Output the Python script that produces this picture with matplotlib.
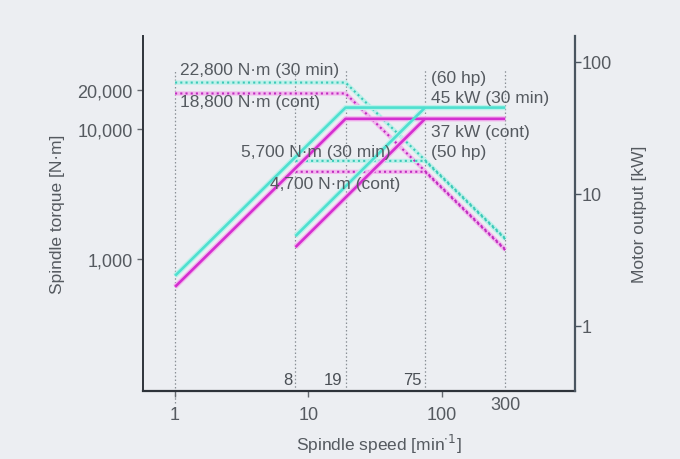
import matplotlib
matplotlib.use("Agg")
import matplotlib.pyplot as plt
from matplotlib.ticker import FixedLocator, NullLocator, FixedFormatter

plt.rcParams['font.family'] = ['Liberation Sans', 'DejaVu Sans']

# ---- data ----
low_speed = [1, 19, 300]          # min^-1
high_speed_pow = [8, 75]
high_speed_trq = [8, 75, 300]

torque_30_low = [22800, 22800, 1444]
torque_cont_low = [18800, 18800, 1190]
torque_30_high = [5700, 5700, 1425]
torque_cont_high = [4700, 4700, 1175]

power_30_low = [2.39, 45, 45]     # kW
power_cont_low = [1.97, 37, 37]
power_30_high = [4.78, 45]
power_cont_high = [3.94, 37]

marker_speeds = [1, 8, 19, 75, 300]
inside_labels = ["8", "19", "75"]
xticks = [1, 10, 100]
xtick_labels = ["1", "10", "100"]
ytorque_ticks = [1000, 10000, 20000]
ytorque_labels = ["1,000", "10,000", "20,000"]
ypower_ticks = [1, 10, 100]
ypower_labels = ["1", "10", "100"]

BG = "#eceef2"
CYAN = "#4fe0d0"
CYAN_L = "#bdf1ea"
MAG = "#d42fd0"
MAG_L = "#f2b8ee"
TXT = "#555a60"

fig = plt.figure(figsize=(6.8, 4.6), dpi=100, facecolor=BG)
ax = fig.add_axes([0.2103, 0.1478, 0.8456 - 0.2103, 0.9196 - 0.1478])
ax.set_facecolor(BG)
ax2 = ax.twinx()

ax.set_xscale("log")
ax.set_yscale("log")
ax2.set_yscale("log")
ax.set_xlim(0.575, 1000)
ax.set_ylim(97, 52000)
ax2.set_ylim(0.32, 157)

# vertical guide lines
for s in marker_speeds:
    ax.axvline(s, ymin=(-0.035 if s == 1 else 0), ymax=0.905, color="#8a8f96",
               lw=0.9, ls=(0, (1.2, 1.8)), clip_on=False, zorder=1)

# torque curves (dotted, with light band)
def dotted(a, x, y, c, cl):
    a.plot(x, y, color=cl, lw=3.0, solid_capstyle="butt", zorder=2)
    a.plot(x, y, color=c, lw=1.5, ls=(0, (1.0, 1.5)), zorder=3)

dotted(ax, low_speed, torque_30_low, "#3cc9b8", CYAN_L)
dotted(ax, low_speed, torque_cont_low, "#c02cc0", MAG_L)
dotted(ax, high_speed_trq, torque_30_high, "#3cc9b8", CYAN_L)
dotted(ax, high_speed_trq, torque_cont_high, "#c02cc0", MAG_L)

# power curves (solid)
def solid(a, x, y, c, cl):
    a.plot(x, y, color=cl, lw=3.8, zorder=4, solid_capstyle="butt")
    a.plot(x, y, color=c, lw=1.9, zorder=5, solid_capstyle="butt")

solid(ax2, low_speed, power_30_low, CYAN, CYAN_L)
solid(ax2, low_speed, power_cont_low, MAG, MAG_L)
solid(ax2, high_speed_pow, power_30_high, CYAN, CYAN_L)
solid(ax2, high_speed_pow, power_cont_high, MAG, MAG_L)

# spines
for a in (ax, ax2):
    a.spines["top"].set_visible(False)
ax.spines["left"].set_color("#2e333a")
ax.spines["left"].set_linewidth(1.4)
ax.spines["bottom"].set_color("#2e333a")
ax.spines["bottom"].set_linewidth(1.6)
ax.spines["right"].set_visible(False)
ax2.spines["left"].set_visible(False)
ax2.spines["bottom"].set_visible(False)
ax2.spines["right"].set_color("#4a5560")
ax2.spines["right"].set_linewidth(1.6)

# ticks
ax.xaxis.set_major_locator(FixedLocator(xticks))
ax.xaxis.set_major_formatter(FixedFormatter(xtick_labels))
ax.xaxis.set_minor_locator(NullLocator())
ax.yaxis.set_major_locator(FixedLocator(ytorque_ticks))
ax.yaxis.set_major_formatter(FixedFormatter(ytorque_labels))
ax.yaxis.set_minor_locator(NullLocator())
ax2.yaxis.set_major_locator(FixedLocator(ypower_ticks))
ax2.yaxis.set_major_formatter(FixedFormatter(ypower_labels))
ax2.yaxis.set_minor_locator(NullLocator())
ax.tick_params(axis="both", labelsize=13, labelcolor=TXT, color="#666a70",
               length=4, width=1, direction="out")
ax.tick_params(axis="x", pad=7)
ax2.tick_params(axis="y", labelsize=13, labelcolor=TXT, color="#4a5560",
                length=4, width=1, direction="out", pad=1)

# 300 label below axis (sits slightly higher than the tick labels)
ax.text(300, -0.015, "300", transform=ax.get_xaxis_transform(), ha="center",
        va="top", fontsize=13, color=TXT)

# inside labels near bottom
for s, lab in zip(marker_speeds[1:4], inside_labels):
    ax.text(s / 1.06, 0.01, lab, transform=ax.get_xaxis_transform(), ha="right",
            va="bottom", fontsize=12, color="#4a4f55")

ax.set_xlabel("Spindle speed [min$^{\\cdot 1}$]", fontsize=12.5, color=TXT, labelpad=6)
ax.xaxis.set_label_coords(0.545, -0.115)
ax.set_ylabel("Spindle torque [N·m]", fontsize=12.5, color=TXT, labelpad=9)
ax2.set_ylabel("Motor output [kW]", fontsize=12.5, color=TXT, labelpad=14)

# annotations (placed in figure pixel positions)
def ftxt(x, y, s):
    fig.text(x / 680, 1 - y / 460, s, fontsize=12.5, color=TXT, ha="left", va="center")

ftxt(180, 71, "22,800 N·m (30 min)")
ftxt(180, 102, "18,800 N·m (cont)")
ftxt(241, 152, "5,700 N·m (30 min)")
ftxt(270, 184, "4,700 N·m (cont)")
ftxt(431, 79, "(60 hp)")
ftxt(431, 98, "45 kW (30 min)")
ftxt(431, 133, "37 kW (cont)")
ftxt(431, 152, "(50 hp)")

fig.savefig("out.png", dpi=100, facecolor=BG)
